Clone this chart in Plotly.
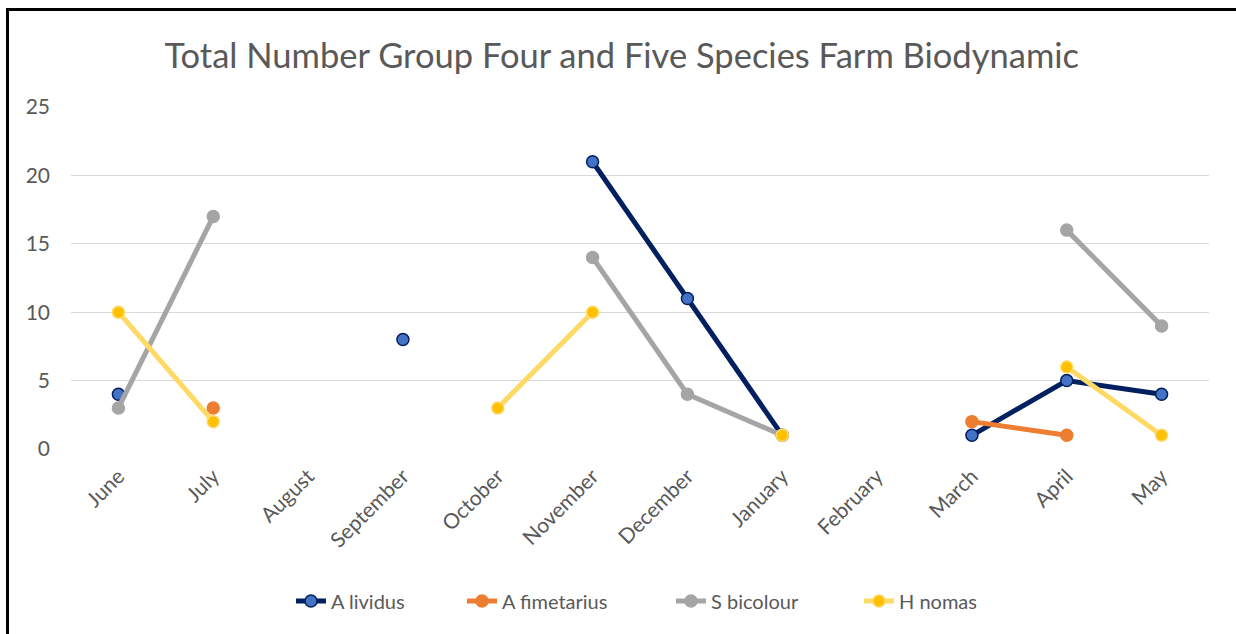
import plotly.graph_objects as go

months = ["June", "July", "August", "September", "October", "November",
          "December", "January", "February", "March", "April", "May"]

a_lividus = [4, None, None, 8, None, 21, 11, 1, None, 1, 5, 4]
a_fimetarius = [None, 3, None, None, None, None, None, None, None, 2, 1, None]
s_bicolour = [3, 17, None, None, None, 14, 4, 1, None, None, 16, 9]
h_nomas = [10, 2, None, None, 3, 10, None, 1, None, None, 6, 1]

series = [
    ("A lividus", a_lividus, "#002060", "#4472C4", "#002060"),
    ("A fimetarius", a_fimetarius, "#ED7D31", "#ED7D31", "#ED7D31"),
    ("S bicolour", s_bicolour, "#A5A5A5", "#A5A5A5", "#A5A5A5"),
    ("H nomas", h_nomas, "#FFD966", "#FFC000", "#FFD966"),
]

W, H = 1236, 634
L, R, T, B = 71, 27, 107, 185
pw = W - L - R
ph = H - T - B

# left edge (px) of each legend entry's text
legend_text_x = [336, 507, 716, 904]
legend_names = ["legend", "legend2", "legend3", "legend4"]

fig = go.Figure()
for (name, vals, line_c, fill_c, edge_c), lg in zip(series, legend_names):
    fig.add_trace(go.Scatter(
        x=months, y=vals, name=name, mode="lines+markers",
        connectgaps=False, legend=lg,
        line=dict(color=line_c, width=5),
        marker=dict(size=12, color=fill_c, line=dict(color=edge_c, width=1.5)),
    ))

def px_x(p):
    return (p - L) / pw

def px_y(p):
    return (H - B - p) / ph

# chart frame: solid bars along the left and top edges
fig.add_shape(type="rect", xref="paper", yref="paper",
              x0=px_x(6), x1=px_x(9), y0=px_y(8), y1=px_y(H),
              fillcolor="black", line=dict(width=0), layer="below")
fig.add_shape(type="rect", xref="paper", yref="paper",
              x0=px_x(6), x1=px_x(W), y0=px_y(8), y1=px_y(11),
              fillcolor="black", line=dict(width=0), layer="below")

legend_common = dict(orientation="h", xanchor="left", yanchor="middle",
                     y=px_y(601),
                     font=dict(size=20, color="#595959"),
                     bgcolor="rgba(0,0,0,0)")
legends = {}
for lg, tx in zip(legend_names, legend_text_x):
    legends[lg] = dict(legend_common, x=px_x(tx - 45))

fig.update_layout(
    width=W, height=H,
    margin=dict(l=L, r=R, t=T, b=B),
    paper_bgcolor="white", plot_bgcolor="white",
    font=dict(family="Lato, 'Open Sans', sans-serif", color="#595959", size=20),
    title=dict(text="Total Number Group Four and Five Species Farm Biodynamic",
               x=0.503, xanchor="center", y=0.912, yanchor="middle",
               font=dict(size=34.5, color="#595959")),
    xaxis=dict(type="category", range=[-0.5, 11.5], showgrid=False,
               showline=False, ticks="", tickangle=-45,
               ticklabelstandoff=10,
               tickfont=dict(size=21, color="#595959")),
    yaxis=dict(range=[0, 25], dtick=5, showgrid=True, gridcolor="#D9D9D9",
               gridwidth=1.3, zeroline=False, showline=False, ticks="",
               ticklabelstandoff=20,
               tickfont=dict(size=21, color="#595959")),
    showlegend=True,
    **legends,
)

fig.write_html("out.html")
